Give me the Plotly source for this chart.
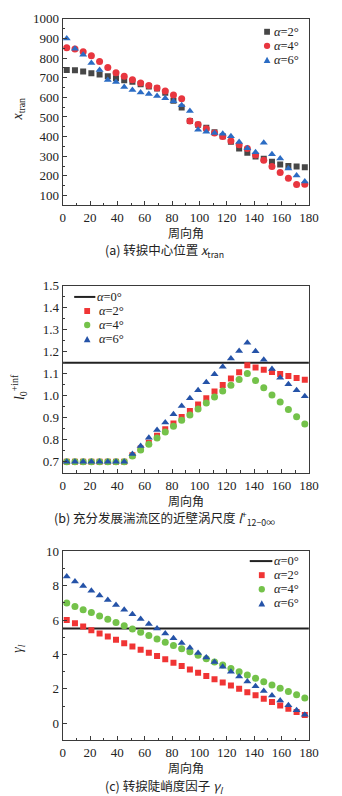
import plotly.graph_objects as go

angles = [3, 9, 15, 21, 27, 33, 39, 45, 51, 57, 63, 69, 75, 81, 87,
          93, 99, 105, 111, 117, 123, 129, 135, 141, 147, 153, 159, 165, 171, 177]

# (a) transition centre position x_tran
xtran_a2 = [740, 738, 732, 723, 717, 707, 697, 687, 680, 667, 655, 645, 623, 583, 548,
            480, 460, 445, 422, 402, 374, 339, 318, 298, 287, 272, 258, 250, 248, 244]
xtran_a4 = [853, 847, 832, 812, 783, 752, 725, 707, 690, 673, 660, 648, 632, 612, 593,
            480, 462, 440, 418, 400, 378, 358, 339, 306, 279, 248, 217, 188, 156, 157]
xtran_a6 = [900, 848, 817, 775, 740, 688, 678, 653, 637, 625, 617, 607, 595, 580, 560,
            530, 435, 425, 418, 414, 402, 372, 340, 320, 368, 310, 288, 237, 202, 171]

# (b) near-wall eddy scale
l0_a0 = 1.15
l0_a2 = [0.70] * 8 + [0.730, 0.760, 0.787, 0.818, 0.848, 0.874, 0.903, 0.931, 0.960, 0.989, 1.019,
                      1.049, 1.078, 1.107, 1.138, 1.128, 1.118, 1.108, 1.099, 1.090, 1.081, 1.072]
l0_a4 = [0.70] * 8 + [0.726, 0.754, 0.780, 0.808, 0.835, 0.861, 0.889, 0.913, 0.940, 0.967, 0.994,
                      1.022, 1.047, 1.074, 1.101, 1.069, 1.036, 1.003, 0.971, 0.938, 0.905, 0.872]
l0_a6 = [0.70] * 8 + [0.736, 0.772, 0.809, 0.845, 0.879, 0.916, 0.953, 0.988, 1.025, 1.061, 1.097,
                      1.131, 1.169, 1.203, 1.240, 1.202, 1.163, 1.121, 1.082, 1.052, 1.025, 0.998]

# (c) transition steepness factor
gam_a0 = 5.5
gam_a2 = [6.00, 5.81, 5.62, 5.40, 5.21, 5.04, 4.85, 4.65, 4.46, 4.27, 4.10, 3.91, 3.72, 3.52, 3.33,
          3.13, 2.94, 2.74, 2.56, 2.37, 2.20, 2.00, 1.81, 1.63, 1.43, 1.24, 1.04, 0.85, 0.65, 0.48]
gam_a4 = [6.99, 6.79, 6.60, 6.43, 6.24, 6.04, 5.85, 5.67, 5.48, 5.29, 5.10, 4.90, 4.71, 4.52, 4.33,
          4.15, 3.95, 3.75, 3.56, 3.38, 3.19, 3.00, 2.80, 2.61, 2.42, 2.23, 2.04, 1.85, 1.66, 1.47]
gam_a6 = [8.53, 8.24, 7.97, 7.70, 7.43, 7.16, 6.87, 6.60, 6.33, 6.06, 5.77, 5.50, 5.21, 4.94, 4.67,
          4.39, 4.08, 3.82, 3.56, 3.29, 3.00, 2.72, 2.43, 2.15, 1.88, 1.61, 1.32, 1.05, 0.76, 0.50]

line_x = [0, 180]

legend_a = ["<i>α</i>=2°", "<i>α</i>=4°", "<i>α</i>=6°"]
legend_bc = ["<i>α</i>=0°", "<i>α</i>=2°", "<i>α</i>=4°", "<i>α</i>=6°"]

W, H = 342, 796
SERIF = "Liberation Serif, Times New Roman, serif"
CJK = "Noto Sans CJK SC"

GRAY = "#474747"
RED_A = "#e8363f"
BLUE_A = "#2b6cc4"
RED = "#f03434"
GREEN = "#74c24a"
BLUE = "#2553a8"
INK = "#222222"


def py(p):
    return 1 - p / H


def px(p):
    return p / W


fig = go.Figure()


def pts(x, y, sym, size, color, name, ax):
    fig.add_trace(go.Scatter(x=x, y=y, mode="markers", name=name,
                             marker=dict(symbol=sym, size=size, color=color),
                             xaxis="x" + ax, yaxis="y" + ax, showlegend=False))


def hline(x, yv, name, ax):
    fig.add_trace(go.Scatter(x=x, y=[yv, yv], mode="lines", name=name,
                             line=dict(color=INK, width=2),
                             xaxis="x" + ax, yaxis="y" + ax, showlegend=False))


pts(angles, xtran_a2, "square", 6, GRAY, legend_a[0], "")
pts(angles, xtran_a4, "circle", 7, RED_A, legend_a[1], "")
pts(angles, xtran_a6, "triangle-up", 7, BLUE_A, legend_a[2], "")

hline(line_x, l0_a0, legend_bc[0], "2")
pts(angles, l0_a2, "square", 6, RED, legend_bc[1], "2")
pts(angles, l0_a4, "circle", 7, GREEN, legend_bc[2], "2")
pts(angles, l0_a6, "triangle-up", 7, BLUE, legend_bc[3], "2")

hline(line_x, gam_a0, legend_bc[0], "3")
pts(angles, gam_a2, "square", 6, RED, legend_bc[1], "3")
pts(angles, gam_a4, "circle", 7, GREEN, legend_bc[2], "3")
pts(angles, gam_a6, "triangle-up", 7, BLUE, legend_bc[3], "3")

xdom = [px(62), px(318)]
doms = {
    1: [py(200), py(12)],
    2: [py(470), py(281)],
    3: [py(740), py(549)],
}

TICKC = "#3a3a3a"
axis_common = dict(showline=True, mirror=True, linecolor=TICKC, linewidth=1.3,
                   ticks="inside", ticklen=4, tickcolor=TICKC, tickwidth=1,
                   showgrid=False, zeroline=False,
                   tickfont=dict(family=SERIF, size=13, color=INK))
minor_common = dict(ticklen=2.5, ticks="inside", tickcolor=TICKC)

layout = dict(width=W, height=H, margin=dict(l=0, r=0, t=0, b=0),
              paper_bgcolor="white", plot_bgcolor="white", showlegend=False)

yspecs = {
    1: dict(range=[50, 1000], dtick=100, tick0=0, minor=dict(minor_common, dtick=50)),
    2: dict(range=[0.65, 1.5], dtick=0.1, tick0=0, tickformat=".1f",
            minor=dict(minor_common, dtick=0.05)),
    3: dict(range=[-1, 10], dtick=2, tick0=0, minor=dict(minor_common, dtick=1)),
}

for i in (1, 2, 3):
    sx = "" if i == 1 else str(i)
    layout["xaxis" + sx] = dict(axis_common, domain=xdom, anchor="y" + sx, range=[0, 180],
                                dtick=20, tick0=0, minor=dict(minor_common, dtick=10))
    layout["yaxis" + sx] = dict(axis_common, domain=doms[i], anchor="x" + sx, **yspecs[i])

fig.update_layout(**layout)

ann = []
shapes = []


# ---- legend keys (decoration, placed in pixel space of the page) ----
def sq(cx, cy, s, color):
    shapes.append(dict(type="rect", xref="paper", yref="paper",
                       x0=px(cx - s / 2), x1=px(cx + s / 2), y0=py(cy + s / 2), y1=py(cy - s / 2),
                       fillcolor=color, line=dict(width=0)))


def circ(cx, cy, s, color):
    shapes.append(dict(type="circle", xref="paper", yref="paper",
                       x0=px(cx - s / 2), x1=px(cx + s / 2), y0=py(cy + s / 2), y1=py(cy - s / 2),
                       fillcolor=color, line=dict(width=0)))


def tri(cx, cy, s, color):
    h = s * 0.9
    path = "M {:.5f},{:.5f} L {:.5f},{:.5f} L {:.5f},{:.5f} Z".format(
        px(cx - s / 2), py(cy + h / 2), px(cx + s / 2), py(cy + h / 2), px(cx), py(cy - h / 2))
    shapes.append(dict(type="path", xref="paper", yref="paper", path=path,
                       fillcolor=color, line=dict(width=0)))


def seg(x0, x1, cy):
    shapes.append(dict(type="line", xref="paper", yref="paper",
                       x0=px(x0), x1=px(x1), y0=py(cy), y1=py(cy),
                       line=dict(color=INK, width=2)))


def ltext(t, x, cy):
    ann.append(dict(text=t, x=px(x), y=py(cy), xref="paper", yref="paper",
                    showarrow=False, xanchor="left", yanchor="middle",
                    font=dict(family=SERIF, size=12.5, color=INK)))


STEP = 14.2

# legend (a)
ya = [25 + k * STEP for k in range(3)]
sq(274.5, ya[0], 6, GRAY)
circ(274.5, ya[1], 6.5, RED_A)
tri(274.5, ya[2], 7, BLUE_A)
for t, cy in zip(legend_a, ya):
    ltext(t, 280, cy)

# legend (b)
yb = [292.5 + k * STEP for k in range(4)]
seg(74, 96, yb[0])
sq(87.5, yb[1], 6, RED)
circ(87.5, yb[2], 6.5, GREEN)
tri(87.5, yb[3], 7, BLUE)
for k, (t, cy) in enumerate(zip(legend_bc, yb)):
    ltext(t, 96 if k == 0 else 98, cy)

# legend (c)
yc3 = [559 + k * STEP for k in range(4)]
seg(256.5, 280, yc3[0])
sq(269, yc3[1], 6, RED)
circ(269, yc3[2], 6.5, GREEN)
tri(269, yc3[3], 7, BLUE)
for t, cy in zip(legend_bc, yc3):
    ltext(t, 280, cy)

for yc in (228, 498, 767.5):
    ann.append(dict(text="周向角", x=px(190), y=py(yc), xref="paper", yref="paper",
                    showarrow=False, font=dict(family=CJK, size=12, color=INK),
                    xanchor="center", yanchor="middle"))

caps = [
    ("(a) 转捩中心位置 <i>x</i><sub>tran</sub>", 246),
    ("(b) 充分发展湍流区的近壁涡尺度 <i>l</i><sup>+</sup><sub>12−0∞</sub>", 516),
    ("(c) 转捩陡峭度因子 <i>γ</i><sub><i>l</i></sub>", 786),
]
for t, yc in caps:
    ann.append(dict(text=t, x=px(168), y=py(yc), xref="paper", yref="paper",
                    showarrow=False, font=dict(family=CJK, size=12.5, color=INK),
                    xanchor="center", yanchor="middle"))

ytitles = [
    ("<i>x</i><sub>tran</sub>", 103),
    ("<i>l</i><sub>0</sub><sup>+inf</sup>", 383),
    ("<i>γ</i><sub><i>l</i></sub>", 647),
]
for t, yc in ytitles:
    ann.append(dict(text=t, x=px(16), y=py(yc), xref="paper", yref="paper",
                    showarrow=False, textangle=-90,
                    font=dict(family=SERIF, size=14, color=INK),
                    xanchor="center", yanchor="middle"))

fig.update_layout(annotations=ann, shapes=shapes)

fig.write_html("out.html",
               config={"displayModeBar": False},
               post_script="document.body.style.margin='0';document.body.style.padding='0';"
                           "document.body.style.overflow='hidden';")
